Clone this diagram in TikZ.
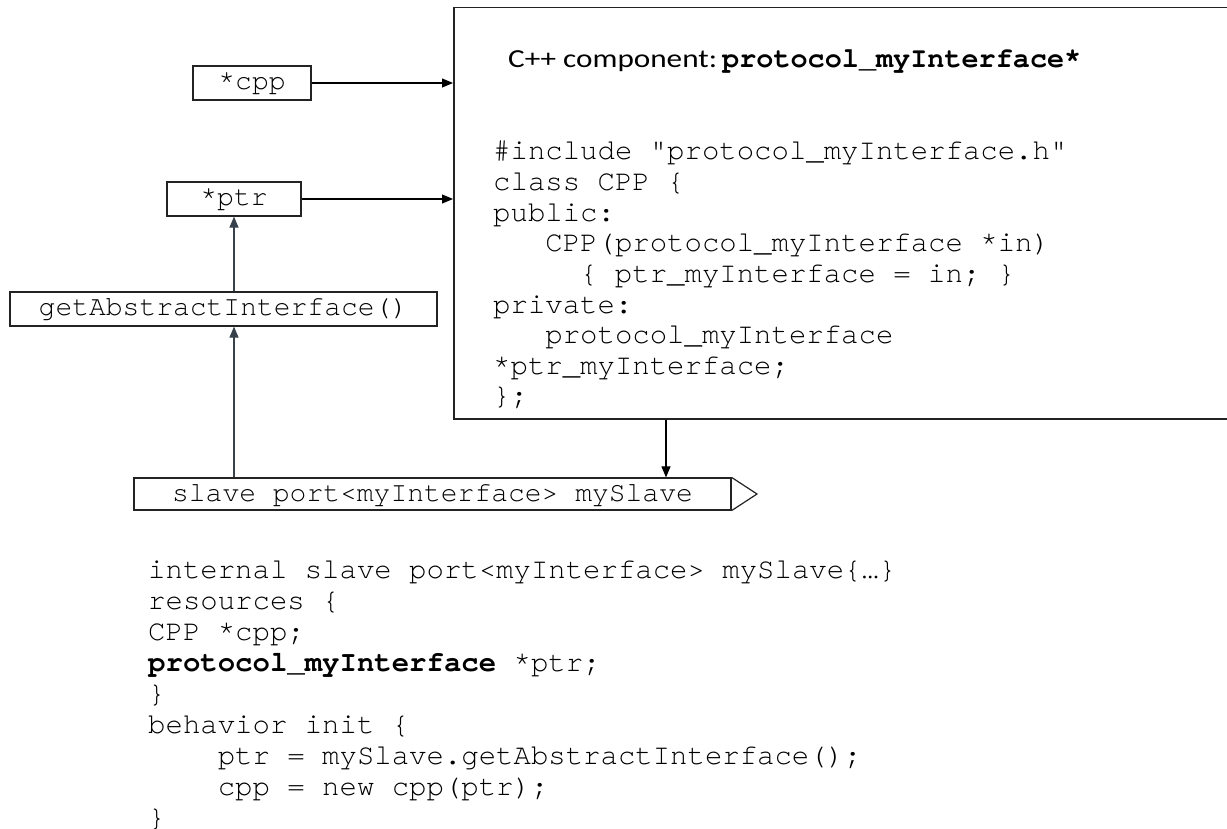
\documentclass[tikz,border=0pt]{standalone}
\usepackage{graphicx}
\usepackage{fontspec}
\newfontfamily\cur{texgyrecursor}[Extension=.otf,UprightFont=*-regular,BoldFont=*-bold]
\newfontfamily\cali{Carlito}
\usetikzlibrary{arrows.meta}
\definecolor{slate}{RGB}{55,66,77}
\definecolor{edgec}{RGB}{35,35,35}
\begin{document}
\begin{tikzpicture}[x=1pt,y=-1pt,
  mono/.style={font=\cur\fontsize{28}{30}\selectfont},
  box/.style={draw=edgec, line width=1.2pt, mono, inner sep=0pt, text height=17pt, text depth=3pt},
  code/.style={font=\cur\fontsize{29}{31}\selectfont, anchor=base west, inner sep=0pt},
  arr/.style={-{Triangle[length=11pt,width=9pt]}, line width=1.1pt, draw=black, fill=black},
  sarr/.style={-{Triangle[length=11pt,width=9pt]}, line width=1.1pt, draw=slate, fill=slate}]
\useasboundingbox (0,0) rectangle (1227,829);

% left boxes
\node[box, minimum width=118pt, minimum height=34pt] (cpp) at (252,83) {*cpp};
\node[box, minimum width=134pt, minimum height=34pt] (ptr) at (234,199) {*ptr};
\node[box, minimum width=427pt, minimum height=34pt] (get) at (223.5,309) {getAbstractInterface()};
\node[box, minimum width=597pt, minimum height=32pt] (slave) at (432.5,494) {slave port<myInterface> mySlave};
\draw[draw=edgec, line width=1.2pt] (slave.north east) -- (757,494) coordinate (tip) -- (slave.south east);

% component box
\node[draw=edgec, line width=1.5pt, anchor=north west, minimum width=780pt, minimum height=411pt, inner sep=0pt] (comp) at (453,7) {};

% title
\node[anchor=base west, inner sep=0pt, font=\cali\fontsize{26}{30}\selectfont] (ttl) at (508,68) {\scalebox{1.2}[1]{C++ component:}};
\node[anchor=base west, inner sep=0pt, font=\cur\fontsize{28.5}{30}\selectfont\bfseries] (ttlb) at (722,68) {protocol\_myInterface*};

% code inside component
\node[code] (c1) at (493,160) {\#include "protocol\_myInterface.h"};
\node[code] (c2) at (493,190.6) {class CPP \{};
\node[code] (c3) at (493,221.2) {public:};
\node[code] (c4) at (493,251.8) {\phantom{xxx}CPP(protocol\_myInterface *in)};
\node[code] (c5) at (493,282.4) {\phantom{xxxxx}\{ ptr\_myInterface = in; \}};
\node[code] (c6) at (493,313) {private:};
\node[code] (c7) at (493,343.6) {\phantom{xxx}protocol\_myInterface};
\node[code] (c8) at (493,374.2) {*ptr\_myInterface;};
\node[code] (c9) at (493,404.8) {\};};

% connectors
\coordinate (mid) at (666,0);
\draw[arr] (cpp.east) -- (cpp.east -| comp.west);
\draw[arr] (ptr.east) -- (ptr.east -| comp.west);
\draw[sarr] (get.north -| ptr.south) -- (ptr.south);
\draw[sarr] (slave.north -| ptr.south) -- (get.south -| ptr.south);
\draw[arr] (comp.south -| mid) -- (slave.north -| mid);

% bottom listing
\node[code] (l1) at (148,578) {internal slave port<myInterface> mySlave\{…\}};
\node[code] (l2) at (148,609) {resources \{};
\node[code] (l3) at (148,640) {CPP *cpp;};
\node[code] (l4) at (148,671) {\bfseries protocol\_myInterface\mdseries{} *ptr;};
\node[code] (l5) at (148,702) {\}};
\node[code] (l6) at (148,733) {behavior init \{};
\node[code] (l7) at (148,764) {\phantom{xxxx}ptr = mySlave.getAbstractInterface();};
\node[code] (l8) at (148,795) {\phantom{xxxx}cpp = new cpp(ptr);};
\node[code] (l9) at (148,826) {\}};
\end{tikzpicture}
\end{document}
